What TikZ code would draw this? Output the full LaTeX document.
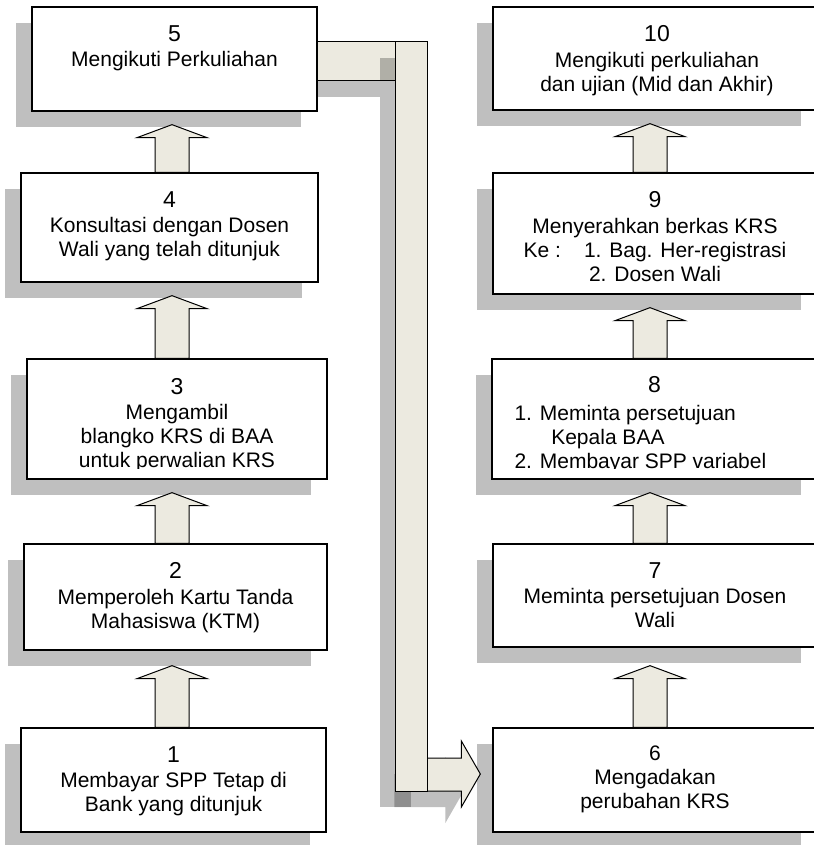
\documentclass[tikz,border=0pt]{standalone}
\usepackage{fontspec}
\setmainfont{Liberation Sans}
\usetikzlibrary{calc,shadows}
\definecolor{arrowfill}{HTML}{ECEAE0}
\tikzset{
  stepbox/.style={draw=black, line width=1.3pt, fill=white, inner sep=0pt,
    drop shadow={shadow xshift=-16pt, shadow yshift=-16pt, fill=black!25, opacity=1}},
  steptext/.style={inner sep=0pt, align=center, font=\fontsize{21}{24}\selectfont},
  blockarrow/.style={draw=black, line width=1pt, fill=arrowfill, line join=miter},
  shade/.style={fill=black, fill opacity=0.25, draw=none}
}
\newcommand{\numfont}{\fontsize{23}{24}\selectfont}
\newcommand{\blockup}[4][13]{%
  \draw[blockarrow] ($(#2.north -| #4)+(-17,0)$) -- ($(#3.south -| #4)+(-17,#1+13)$)
    -- ($(#3.south -| #4)+(-35,#1+13)$) -- ($(#3.south -| #4)+(0,#1)$)
    -- ($(#3.south -| #4)+(35,#1+13)$) -- ($(#3.south -| #4)+(17,#1+13)$)
    -- ($(#2.north -| #4)+(17,0)$) -- cycle;}

\begin{document}
\begin{tikzpicture}[x=1pt,y=-1pt]
\useasboundingbox (0,0) rectangle (813,845);
\coordinate (axl) at (172,0);
\coordinate (axr) at (650,0);

\node (b5) at (174.5,59) [stepbox, minimum width=285, minimum height=104] {};
\node (b4) at (169.5,227.5) [stepbox, minimum width=297, minimum height=109] {};
\node (b3) at (177,419) [stepbox, minimum width=300, minimum height=120] {};
\node (b2) at (175.5,597) [stepbox, minimum width=303, minimum height=106] {};
\node (b1) at (173.5,780) [stepbox, minimum width=305, minimum height=104] {};
\node (b10) at (655,58.5) [stepbox, minimum width=324, minimum height=103] {};
\node (b9) at (655,233.5) [stepbox, minimum width=324, minimum height=121] {};
\node (b8) at (654.5,419) [stepbox, minimum width=325, minimum height=120] {};
\node (b7) at (655,595.5) [stepbox, minimum width=324, minimum height=103] {};
\node (b6) at (655,780) [stepbox, minimum width=324, minimum height=104] {};

\node (t5) at ($(b5.north)+(0,19)$) [steptext, anchor=north] {{\numfont 5}\\[1.5pt]Mengikuti Perkuliahan};
\node (t4) at ($(b4.north)+(0,19)$) [steptext, anchor=north] {{\numfont 4}\\[1.5pt]Konsultasi dengan Dosen\\Wali yang telah ditunjuk};
\begin{scope}
\clip (b3.north west) rectangle ($(b3.south east)+(0,-11)$);
\node (t3) at ($(b3.north)+(0,19.5)$) [steptext, anchor=north] {{\numfont 3}\\[1.5pt]Mengambil\\blangko KRS di BAA\\untuk perwalian KRS};
\end{scope}
\node (t2) at ($(b2.north)+(0,19)$) [steptext, anchor=north] {{\numfont 2}\\[1.5pt]Memperoleh Kartu Tanda\\Mahasiswa (KTM)};
\node (t1) at ($(b1.north)+(0,19)$) [steptext, anchor=north] {{\numfont 1}\\[1.5pt]Membayar SPP Tetap di\\Bank yang ditunjuk};
\node (t10) at ($(b10.north)+(2,19)$) [steptext, anchor=north] {{\numfont 10}\\[1.5pt]Mengikuti perkuliahan\\dan ujian (Mid dan Akhir)};
\node (t9) at ($(b9.north)+(0,19)$) [steptext, anchor=north] {{\numfont 9}\\[1.5pt]Menyerahkan berkas KRS\\Ke :\hspace{1.1em}1. Bag. Her-registrasi\\2. Dosen Wali};
\begin{scope}
\clip (b8.north west) rectangle ($(b8.south east)+(0,-11)$);
\node (t8) at ($(b8.north)+(0,18)$) [steptext, anchor=north] {\numfont 8};
\node (l8) at ($(b8.north west)+(23,46.5)$) [steptext, align=left, anchor=north west] {1. Meminta persetujuan\\\hspace*{1.75em}Kepala BAA\\2. Membayar SPP variabel};
\end{scope}
\node (t7) at ($(b7.north)+(0,19)$) [steptext, anchor=north] {{\numfont 7}\\[1.5pt]Meminta persetujuan Dosen\\Wali};
\node (t6) at ($(b6.north)+(0,18)$) [steptext, anchor=north] {6\\Mengadakan\\perubahan KRS};

\blockup[15]{b1}{b2}{axl}
\blockup{b2}{b3}{axl}
\blockup{b3}{b4}{axl}
\blockup{b4}{b5}{axl}
\blockup[18]{b6}{b7}{axr}
\blockup{b7}{b8}{axr}
\blockup{b8}{b9}{axr}
\blockup{b9}{b10}{axr}

% bent arrow from 5 down to 6
\coordinate (kk) at ($(b6.west)+(-12,-6)$);
\fill[shade] ($(b5.east)+(0,-1)$) rectangle ($(b5.east)+(62,38)$);
\draw[blockarrow] ($(b5.east)+(0,-17)$) rectangle ($(b5.east)+(78,22)$);
\fill[shade] ($(kk)+(-86,0)$) -- ($(kk)+(-35,0)$) -- ($(kk)+(-35,-17)$) -- ($(kk)+(-16,16)$)
  -- ($(kk)+(-35,49)$) -- ($(kk)+(-35,33)$) -- ($(kk)+(-86,33)$) -- cycle;
\draw[blockarrow] ($(kk)+(-70,-16)$) -- ($(kk)+(-19,-16)$) -- ($(kk)+(-19,-33)$) -- (kk)
  -- ($(kk)+(-19,33)$) -- ($(kk)+(-19,17)$) -- ($(kk)+(-70,17)$) -- cycle;
\fill[shade] ($(b5.east)+(62,-1)$) rectangle ($(kk)+(-69,33)$);
\draw[blockarrow] ($(b5.east)+(78,-17)$) rectangle ($(kk)+(-53,17)$);
\end{tikzpicture}
\end{document}
